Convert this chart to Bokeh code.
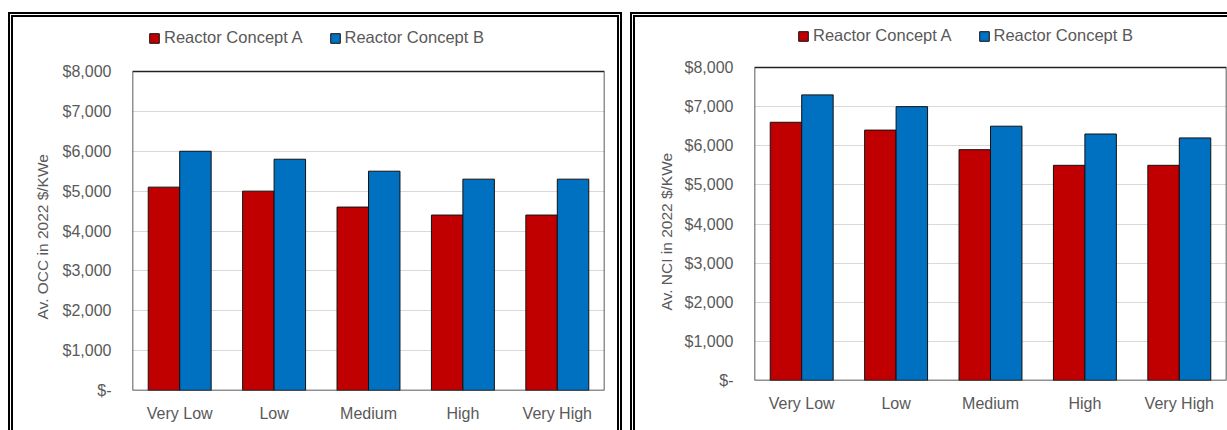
from bokeh.plotting import figure
from bokeh.models import (FactorRange, Range1d, FixedTicker, Legend, LegendItem,
                          ColumnDataSource, BoxAnnotation, Title)
from bokeh.transform import dodge
from bokeh.layouts import row
from bokeh.embed import file_html
from bokeh.resources import INLINE

categories = ["Very Low", "Low", "Medium", "High", "Very High"]
series_names = ["Reactor Concept A", "Reactor Concept B"]
occ_a = [5100, 5000, 4600, 4400, 4400]
occ_b = [6000, 5800, 5500, 5300, 5300]
nci_a = [6600, 6400, 5900, 5500, 5500]
nci_b = [7300, 7000, 6500, 6300, 6200]
y_ticks = [0, 1000, 2000, 3000, 4000, 5000, 6000, 7000, 8000]
y_tick_labels = ["$-", "$1,000", "$2,000", "$3,000", "$4,000", "$5,000", "$6,000", "$7,000", "$8,000"]
ylabels = ["Av. OCC in 2022 $/KWe", "Av. NCI in 2022 $/KWe"]

COL_A = "#C00000"
COL_B = "#0070C0"
GRAY = "#595959"
SANS = "Liberation Sans"

Y_MAX = y_ticks[-1]


def make_panel(vals_a, vals_b, ylabel, frame_w, frame_h, mb_left, mb_right, mb_top, mb_bottom,
               axis_px, leg_x, leg_y, label_offset, label_standoff):
    # the frame is taller than the value axis so that the legend sits inside it
    y_end = Y_MAX * frame_h / axis_px
    src = ColumnDataSource(dict(cat=categories, a=vals_a, b=vals_b))
    p = figure(x_range=FactorRange(*categories, range_padding=0),
               y_range=Range1d(0, y_end),
               frame_width=frame_w, frame_height=frame_h,
               output_backend="svg", toolbar_location=None,
               min_border_left=mb_left, min_border_right=mb_right,
               min_border_top=mb_top, min_border_bottom=mb_bottom)
    ra = p.vbar(x=dodge("cat", -1 / 6, range=p.x_range), top="a", width=1 / 3, source=src,
                fill_color=COL_A, line_color="#111111", line_width=1)
    rb = p.vbar(x=dodge("cat", 1 / 6, range=p.x_range), top="b", width=1 / 3, source=src,
                fill_color=COL_B, line_color="#111111", line_width=1)
    p.outline_line_color = None
    box = BoxAnnotation(bottom=0, top=Y_MAX, fill_alpha=0, line_color="#222222",
                        line_width=1.5, line_alpha=1, level="overlay")
    p.add_layout(box)
    p.xgrid.grid_line_color = None
    p.ygrid.grid_line_color = "#d9d9d9"
    p.ygrid.grid_line_width = 1
    p.ygrid.ticker = FixedTicker(ticks=y_ticks)
    p.yaxis.ticker = FixedTicker(ticks=y_ticks)
    p.yaxis.major_label_overrides = {t: l for t, l in zip(y_ticks, y_tick_labels)}
    for ax in (p.xaxis[0], p.yaxis[0]):
        ax.axis_line_color = None
        ax.major_tick_line_color = None
        ax.minor_tick_line_color = None
        ax.major_tick_out = 0
        ax.major_tick_in = 0
        ax.minor_tick_out = 0
        ax.minor_tick_in = 0
        ax.major_label_text_color = GRAY
    p.yaxis.major_label_text_font = SANS
    p.yaxis.major_label_text_font_size = "16px"
    p.yaxis.major_label_standoff = 21
    p.xaxis.major_label_text_font = SANS
    p.xaxis.major_label_text_font_size = "16px"
    p.xaxis.major_label_standoff = 14
    # value-axis title, placed along the value part of the frame
    ttl = Title(text=ylabel, align="left", offset=label_offset, standoff=label_standoff,
                text_font=SANS, text_font_size="15.5px", text_font_style="normal",
                text_color=GRAY)
    p.add_layout(ttl, "left")
    legend = Legend(items=[LegendItem(label=series_names[0], renderers=[ra]),
                           LegendItem(label=series_names[1], renderers=[rb])],
                    orientation="horizontal", location=(leg_x, leg_y),
                    glyph_width=12, glyph_height=12, label_standoff=4, spacing=26,
                    padding=0, margin=0, border_line_alpha=0, background_fill_alpha=0,
                    label_text_font=SANS, label_text_font_size="16.5px",
                    label_text_color=GRAY)
    p.add_layout(legend, "center")
    # double panel border drawn as a CSS outline (does not change the layout)
    p.styles = {"outline": "5px double #000"}
    return p


# left panel: canvas x 13..617, y 17..430; frame x 132..604, value axis 71 (8000) .. 390 (0)
p1 = make_panel(occ_a, occ_b, ylabels[0], 472, 368, 119, 13, 5, 40, 319, 16, 343, 71, 17)
p1.margin = (17, 0, 0, 13)
# right panel: canvas x 635..1227; frame x 754..1226, value axis 67 (8000) .. 380 (0)
p2 = make_panel(nci_a, nci_b, ylabels[1], 472, 358, 119, 1, 5, 50, 313, 43, 335, 70, 14)
p2.margin = (17, 0, 0, 18)

layout = row(p1, p2, spacing=0)
open("out.html", "w").write(file_html(layout, INLINE))
